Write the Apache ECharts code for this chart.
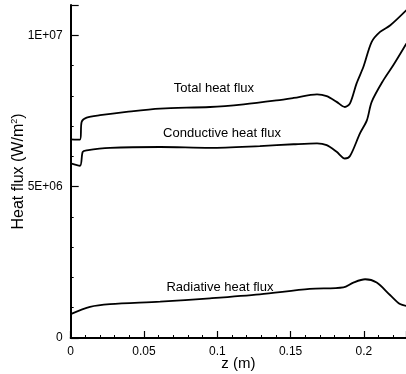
<!DOCTYPE html>
<html><head><meta charset="utf-8">
<script src="https://cdn.jsdelivr.net/npm/echarts@6/dist/echarts.min.js"></script>
<style>html,body{margin:0;padding:0;background:#fff}#c{width:406px;height:374px}</style>
</head><body><div id="c"></div>
<script>
const totalX = [0, 0.0063, 0.0075, 0.0109, 0.020, 0.038, 0.061, 0.095, 0.118, 0.1405, 0.152, 0.168, 0.1746, 0.1814, 0.187, 0.1905, 0.195, 0.1996, 0.2053, 0.211, 0.218, 0.229];
const totalY = [6.56, 6.55, 7.14, 7.28, 7.36, 7.47, 7.58, 7.63, 7.72, 7.85, 7.93, 8.05, 7.99, 7.80, 7.63, 7.75, 8.41, 8.95, 9.78, 10.11, 10.33, 10.83];
const condX = [0, 0.0063, 0.0082, 0.0109, 0.0268, 0.061, 0.095, 0.129, 0.152, 0.168, 0.1746, 0.1814, 0.187, 0.1905, 0.1973, 0.202, 0.2053, 0.2132, 0.220, 0.229];
const condY = [5.77, 5.69, 6.15, 6.20, 6.28, 6.31, 6.28, 6.34, 6.40, 6.43, 6.37, 6.15, 5.93, 6.01, 6.76, 7.19, 7.80, 8.51, 9.01, 9.73];
const radX = [0, 0.0132, 0.0268, 0.061, 0.095, 0.129, 0.163, 0.186, 0.1928, 0.2008, 0.2087, 0.2178, 0.2246, 0.229];
const radY = [0.79, 1.03, 1.12, 1.20, 1.31, 1.44, 1.62, 1.67, 1.83, 1.94, 1.83, 1.42, 1.12, 1.06];
const xTicks = [0, 0.05, 0.1, 0.15, 0.2];
const yTickLabels = {0: '0', 5000000: '5E+06', 10000000: '1E+07'};
const seriesNames = ['Total heat flux', 'Conductive heat flux', 'Radiative heat flux'];
const labelPos = [[0.0977, 8.25e6], [0.1032, 6.77e6], [0.1018, 1.68e6]];

const toPairs = (xs, ys) => xs.map((x, i) => [x, ys[i] * 1e6]);
const font = 'Liberation Sans, Arial, sans-serif';
const chart = echarts.init(document.getElementById('c'));
const mk = (name, xs, ys, lp) => ({
  type: 'line', name, data: toPairs(xs, ys), showSymbol: false, smooth: 0.3,
  lineStyle: {color: '#000', width: 1.8}, silent: true,
  markPoint: {symbol: 'circle', symbolSize: 0, silent: true,
    label: {show: true, formatter: name, color: '#000', fontFamily: font, fontSize: 13},
    data: [{coord: lp}]}
});
chart.setOption({
  animation: false,
  grid: {left: 70.7, right: 0, top: 5, bottom: 36, containLabel: false, outerBoundsMode: 'none'},
  xAxis: {type: 'value', min: 0, max: 0.2287, interval: 0.05,
    name: 'z (m)', nameLocation: 'middle', nameGap: 18, nameMoveOverlap: false,
    nameTextStyle: {color: '#000', fontFamily: font, fontSize: 15},
    axisLine: {lineStyle: {color: '#000', width: 2}},
    axisTick: {inside: true, length: 7, lineStyle: {color: '#000', width: 1.2}},
    minorTick: {show: true, splitNumber: 5, length: 3, lineStyle: {color: '#000', width: 1}},
    splitLine: {show: false},
    axisLabel: {color: '#000', fontFamily: font, fontSize: 12, margin: 8, showMaxLabel: false,
      formatter: v => xTicks.some(t => Math.abs(t - v) < 1e-9) ? String(+v.toFixed(2)) : ''}
  },
  yAxis: {type: 'value', min: 0, max: 11000000, interval: 5000000,
    name: 'Heat flux (W/m{sup|2})', nameLocation: 'middle', nameGap: 44, nameMoveOverlap: false,
    nameTextStyle: {color: '#000', fontFamily: font, fontSize: 16,
      rich: {sup: {fontSize: 9, verticalAlign: 'top', padding: [0, 0, 8, 0], fontFamily: font, color: '#000'}}},
    axisLine: {show: true, lineStyle: {color: '#000', width: 2}},
    axisTick: {inside: true, length: 8, lineStyle: {color: '#000', width: 1.2}},
    minorTick: {show: true, splitNumber: 5, length: 3, lineStyle: {color: '#000', width: 1}},
    splitLine: {show: false},
    axisLabel: {color: '#000', fontFamily: font, fontSize: 12, margin: 8, showMaxLabel: false,
      formatter: v => yTickLabels[v] !== undefined ? yTickLabels[v] : ''}
  },
  series: [
    mk(seriesNames[0], totalX, totalY, labelPos[0]),
    mk(seriesNames[1], condX, condY, labelPos[1]),
    mk(seriesNames[2], radX, radY, labelPos[2])
  ]
});
</script></body></html>
